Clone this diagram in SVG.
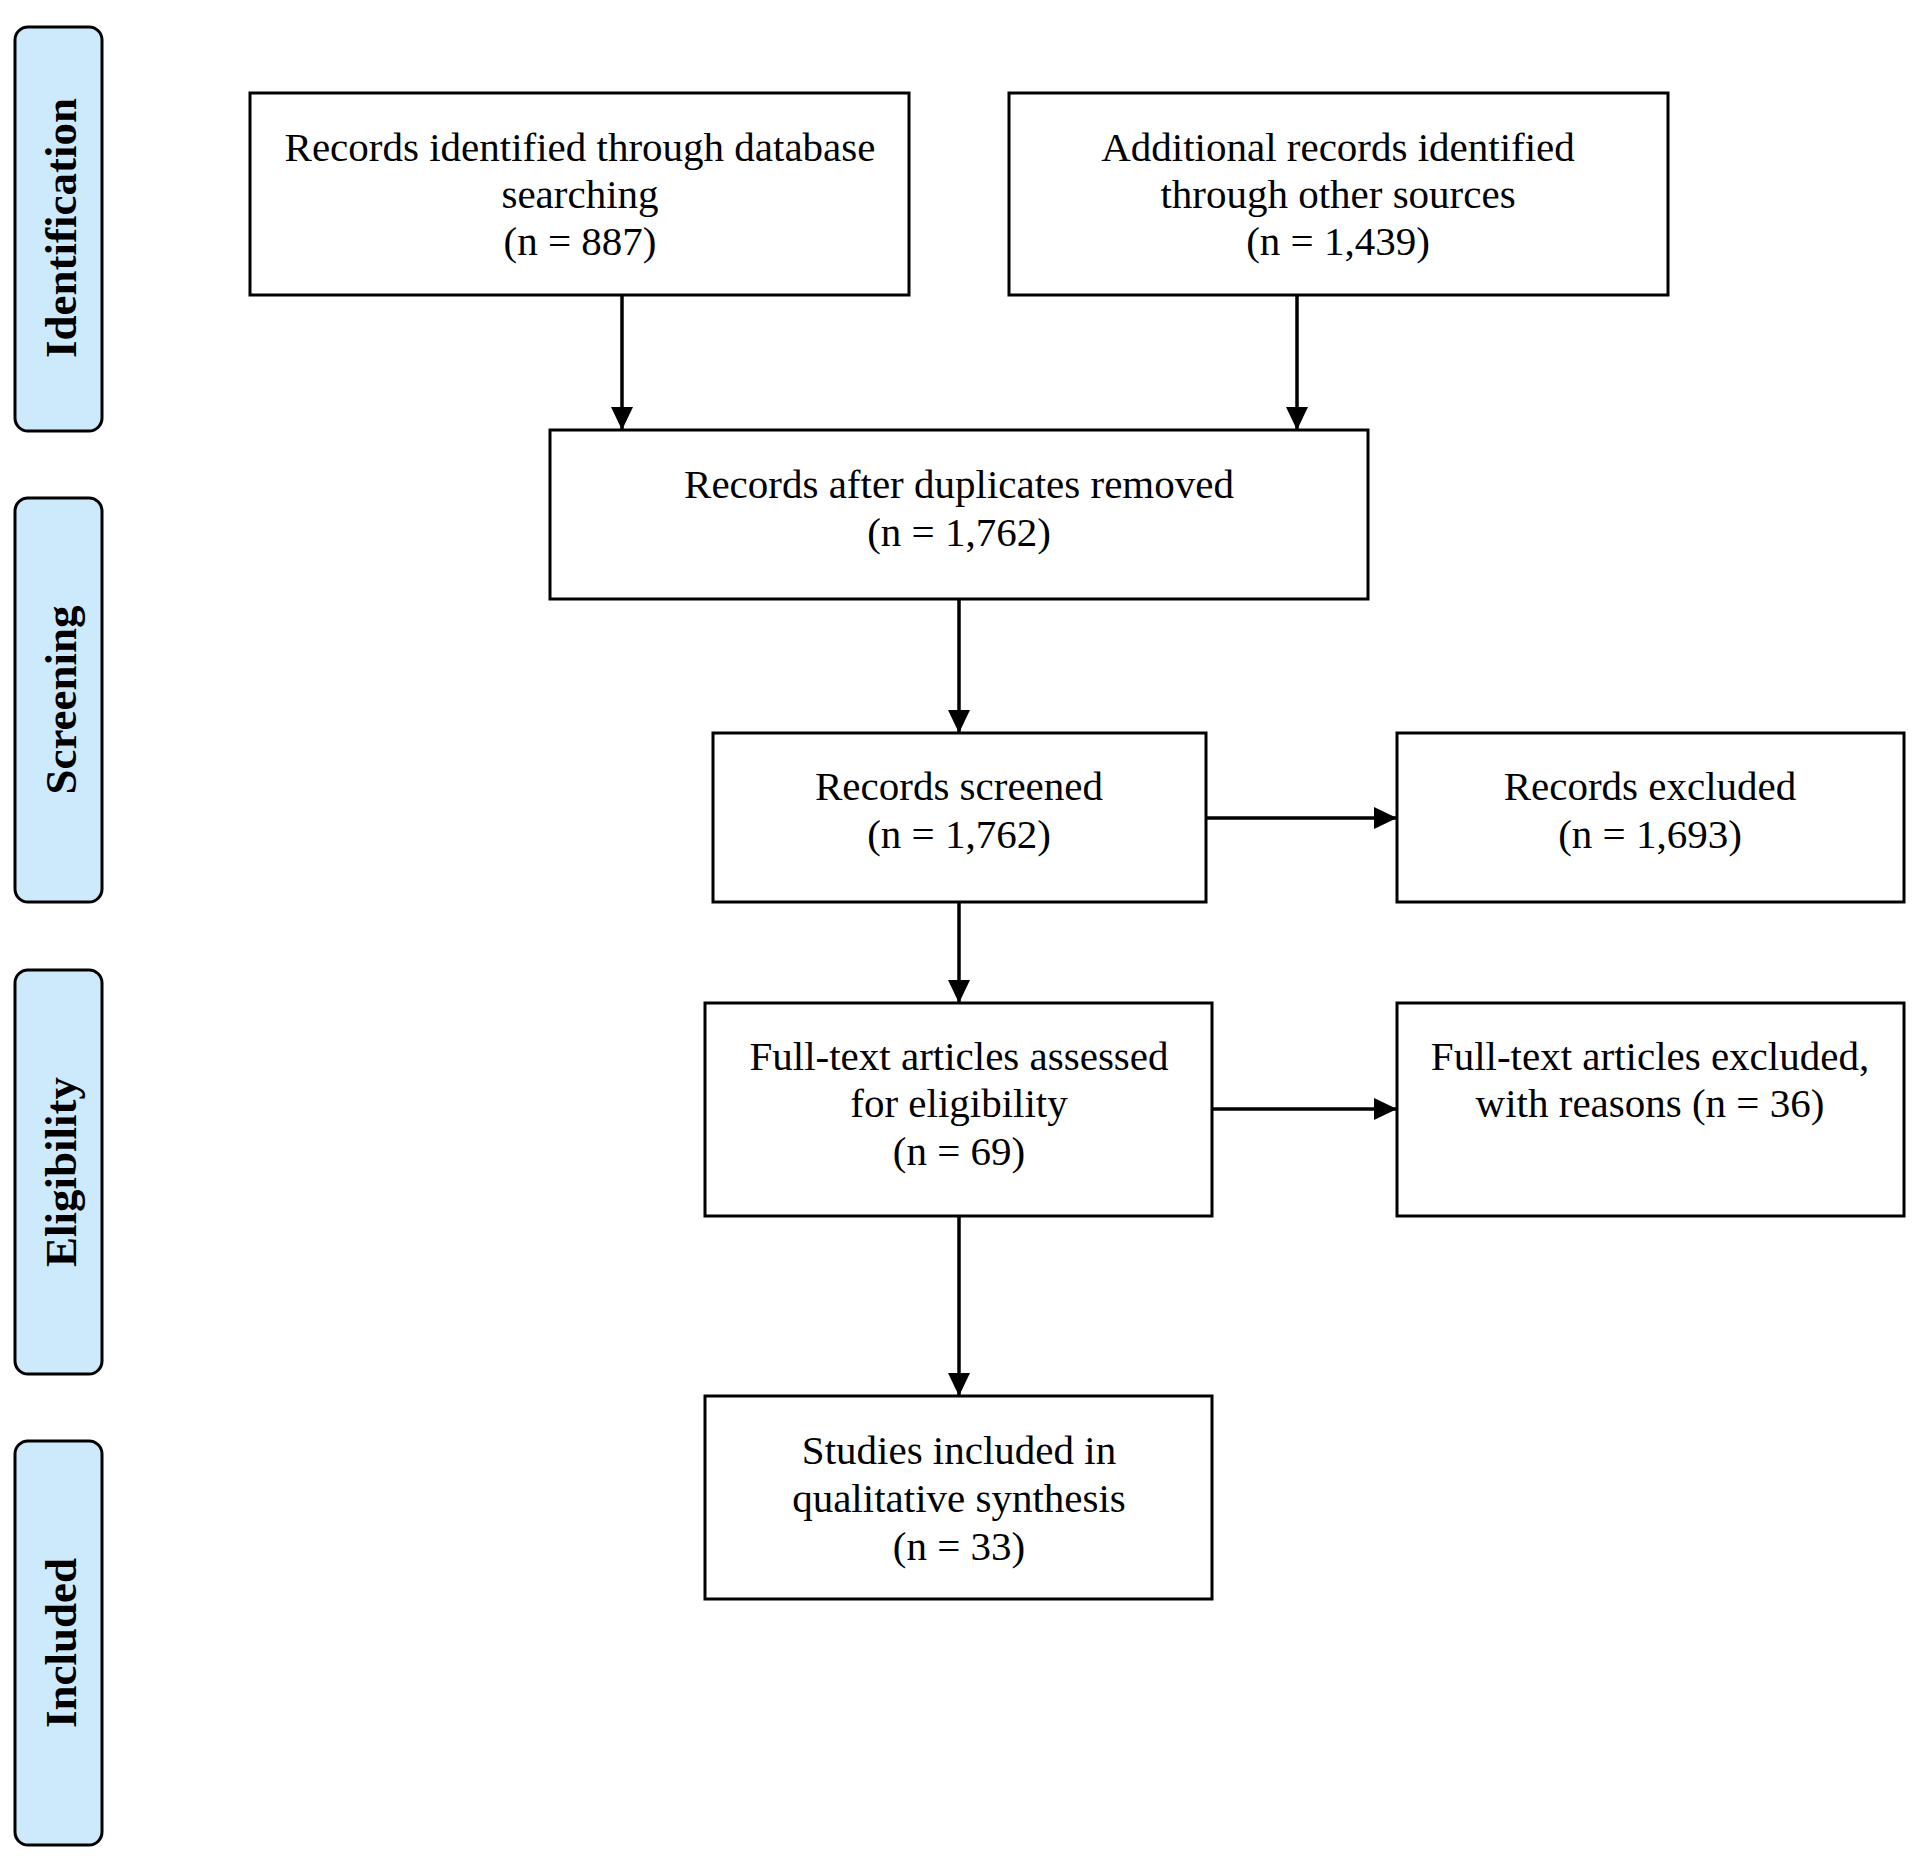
<svg xmlns="http://www.w3.org/2000/svg" width="1920" height="1865" viewBox="0 0 1920 1865">
<style>
.box{fill:#ffffff;stroke:#000000;stroke-width:3}
.side{fill:#cdeafd;stroke:#000000;stroke-width:3}
.t{font-family:"Liberation Serif","Times New Roman",serif;font-size:41px;fill:#000000;text-anchor:middle}
.s{font-family:"Liberation Serif","Times New Roman",serif;font-size:45px;font-weight:bold;fill:#000000;text-anchor:middle}
.c{stroke:#000000;stroke-width:3.5;fill:none;marker-end:url(#ah)}
</style>
<defs>
<marker id="ah" markerWidth="24" markerHeight="24" refX="23" refY="11" orient="auto" markerUnits="userSpaceOnUse">
<path d="M0,0 L23,11 L0,22 Z" fill="#000000"/>
</marker>
</defs>
<rect width="1920" height="1865" fill="#ffffff"/>
<g id="side-identification"><rect class="side" x="15" y="27" width="87" height="404" rx="13"/><text class="s" transform="translate(76,228) rotate(-90)">Identification</text></g>
<g id="side-screening"><rect class="side" x="15" y="498" width="87" height="404" rx="13"/><text class="s" transform="translate(76,700) rotate(-90)">Screening</text></g>
<g id="side-eligibility"><rect class="side" x="15" y="970" width="87" height="404" rx="13"/><text class="s" transform="translate(76,1172) rotate(-90)">Eligibility</text></g>
<g id="side-included"><rect class="side" x="15" y="1441" width="87" height="404" rx="13"/><text class="s" transform="translate(76,1643) rotate(-90)">Included</text></g>

<g id="connectors">
<line class="c" x1="622" y1="295" x2="622" y2="430"/>
<line class="c" x1="1297" y1="295" x2="1297" y2="430"/>
<line class="c" x1="959" y1="599" x2="959" y2="733"/>
<line class="c" x1="1206" y1="818" x2="1397" y2="818"/>
<line class="c" x1="959" y1="902" x2="959" y2="1003"/>
<line class="c" x1="1212" y1="1109" x2="1397" y2="1109"/>
<line class="c" x1="959" y1="1216" x2="959" y2="1396"/>
</g>

<g id="n1"><rect class="box" x="250" y="93" width="659" height="202"/>
<text class="t" x="580" y="161">Records identified through database</text>
<text class="t" x="580" y="208">searching</text>
<text class="t" x="580" y="255">(n = 887)</text></g>

<g id="n2"><rect class="box" x="1009" y="93" width="659" height="202"/>
<text class="t" x="1338" y="161">Additional records identified</text>
<text class="t" x="1338" y="208">through other sources</text>
<text class="t" x="1338" y="255">(n = 1,439)</text></g>

<g id="n3"><rect class="box" x="550" y="430" width="818" height="169"/>
<text class="t" x="959" y="498">Records after duplicates removed</text>
<text class="t" x="959" y="546">(n = 1,762)</text></g>

<g id="n4"><rect class="box" x="713" y="733" width="493" height="169"/>
<text class="t" x="959" y="800">Records screened</text>
<text class="t" x="959" y="848">(n = 1,762)</text></g>

<g id="n5"><rect class="box" x="1397" y="733" width="507" height="169"/>
<text class="t" x="1650" y="800">Records excluded</text>
<text class="t" x="1650" y="848">(n = 1,693)</text></g>

<g id="n6"><rect class="box" x="705" y="1003" width="507" height="213"/>
<text class="t" x="959" y="1070">Full-text articles assessed</text>
<text class="t" x="959" y="1117">for eligibility</text>
<text class="t" x="959" y="1165">(n = 69)</text></g>

<g id="n7"><rect class="box" x="1397" y="1003" width="507" height="213"/>
<text class="t" x="1650" y="1070">Full-text articles excluded,</text>
<text class="t" x="1650" y="1117">with reasons (n = 36)</text></g>

<g id="n8"><rect class="box" x="705" y="1396" width="507" height="203"/>
<text class="t" x="959" y="1464">Studies included in</text>
<text class="t" x="959" y="1512">qualitative synthesis</text>
<text class="t" x="959" y="1560">(n = 33)</text></g>
</svg>
